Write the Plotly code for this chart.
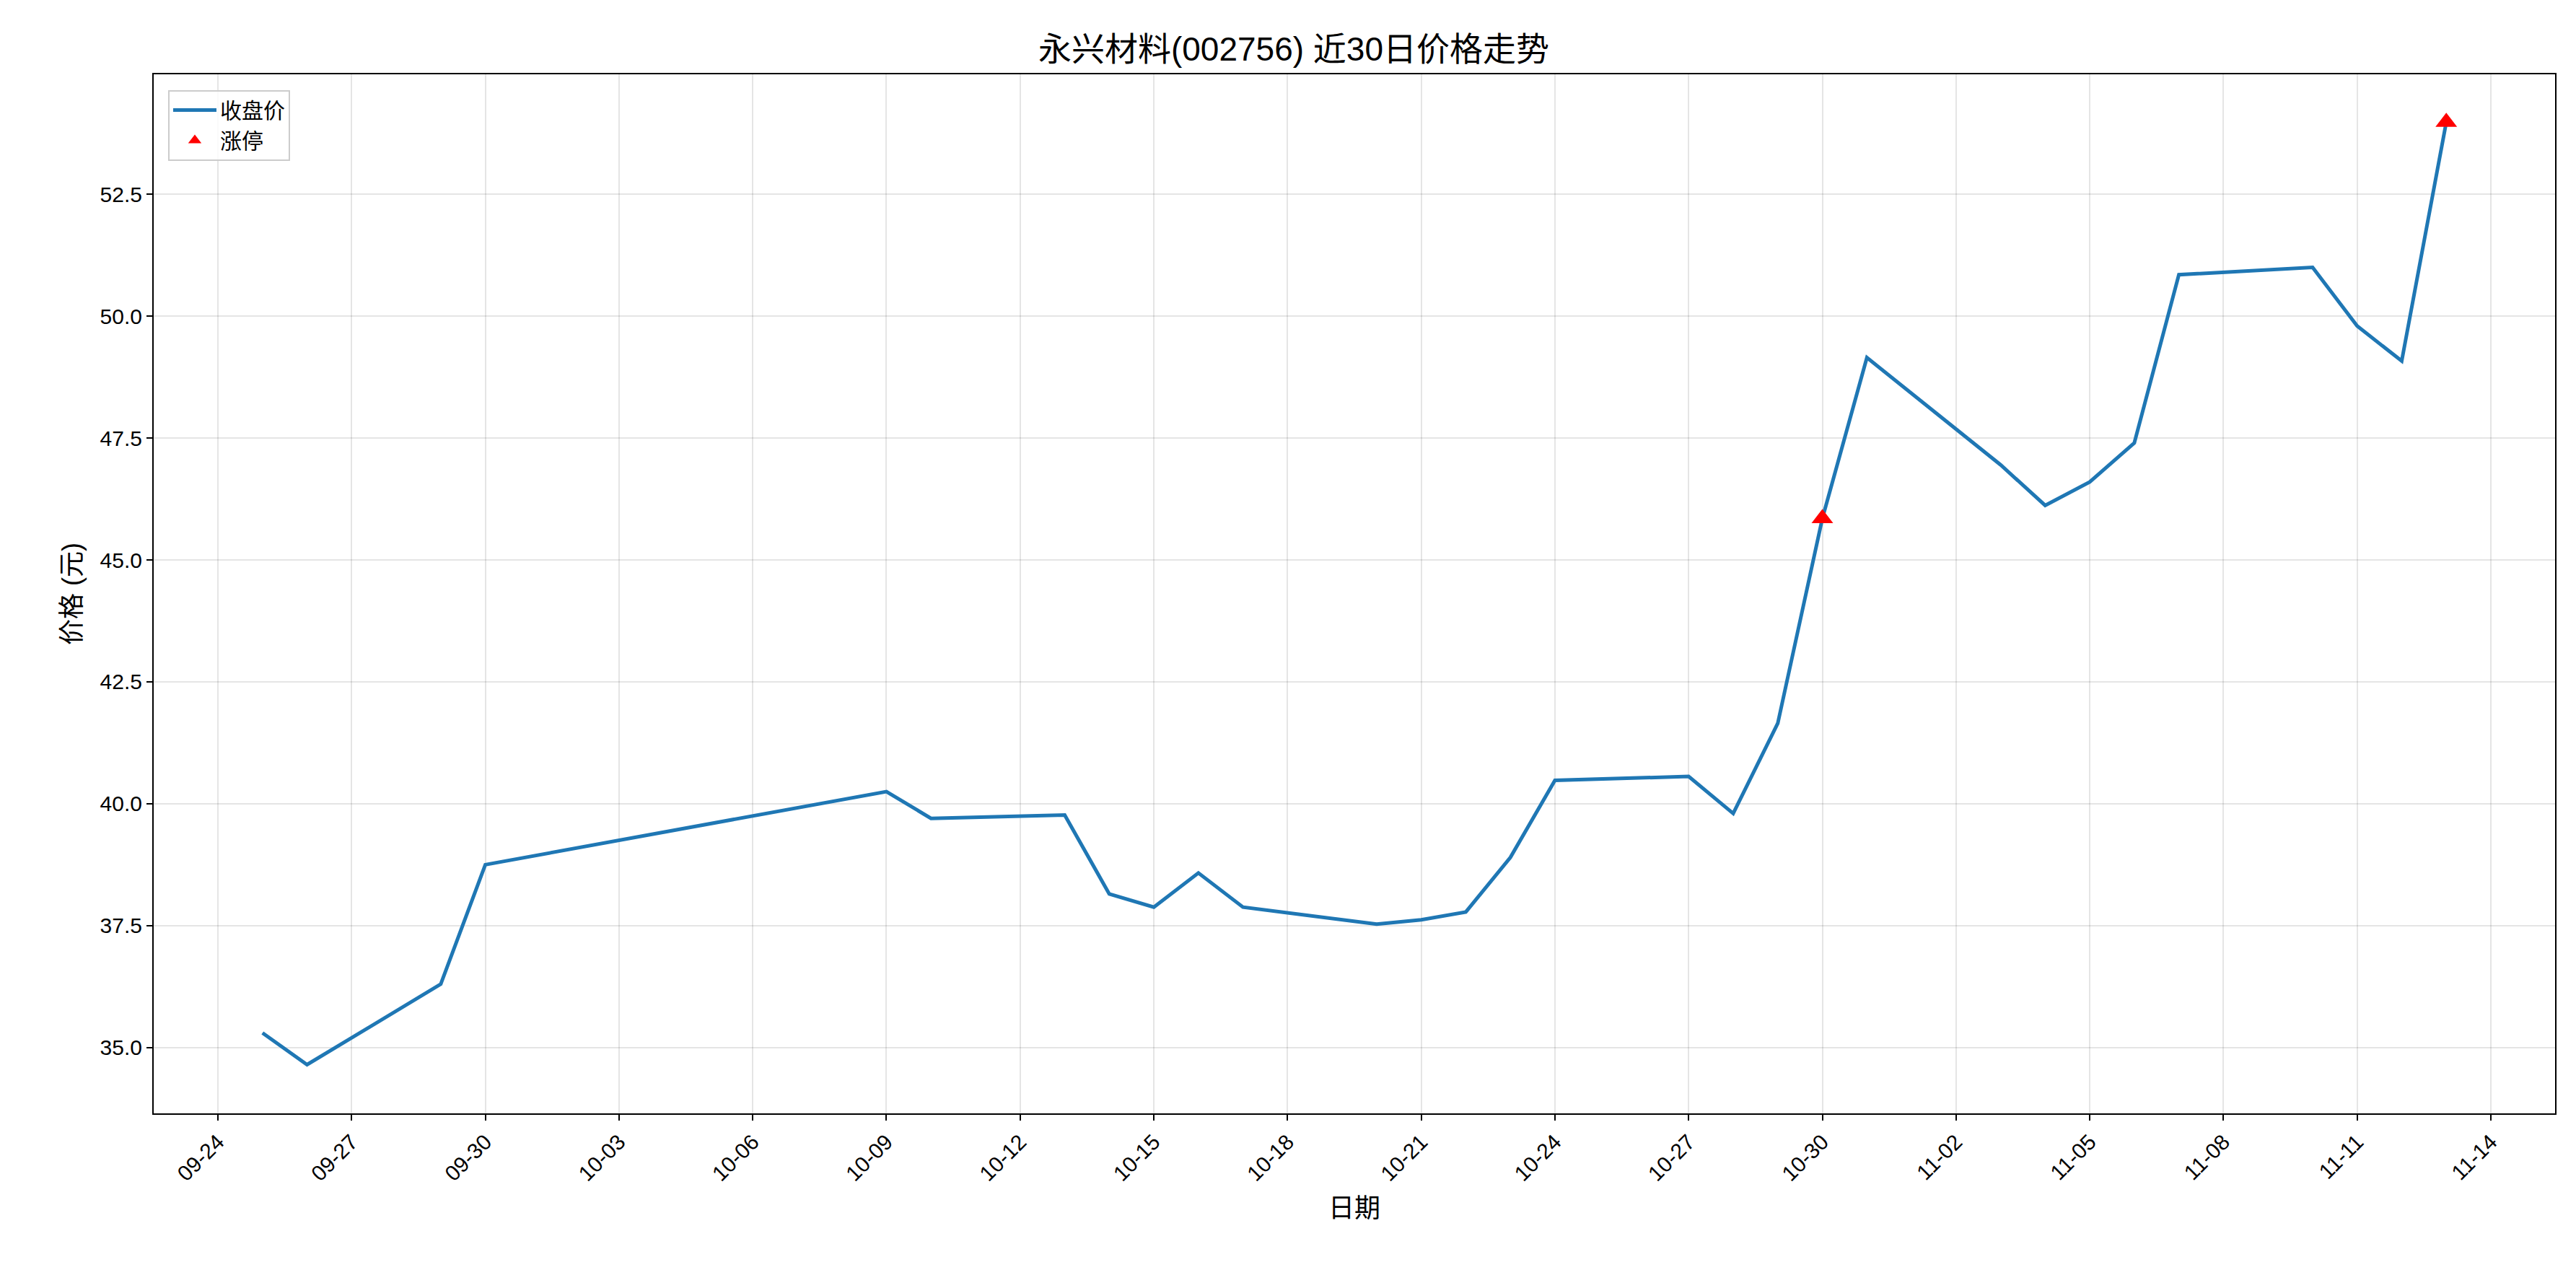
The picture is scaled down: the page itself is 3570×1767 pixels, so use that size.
import plotly.graph_objects as go

dates = ["2025-09-25","2025-09-26","2025-09-29","2025-09-30","2025-10-09","2025-10-10","2025-10-13","2025-10-14","2025-10-15","2025-10-16","2025-10-17","2025-10-20","2025-10-21","2025-10-22","2025-10-23","2025-10-24","2025-10-27","2025-10-28","2025-10-29","2025-10-30","2025-10-31","2025-11-03","2025-11-04","2025-11-05","2025-11-06","2025-11-07","2025-11-10","2025-11-11","2025-11-12","2025-11-13"]
close = [35.3,34.65,36.3,38.75,40.25,39.7,39.77,38.15,37.88,38.58,37.88,37.53,37.62,37.78,38.9,40.48,40.56,39.8,41.65,45.85,49.15,46.95,46.12,46.6,47.4,50.85,51.0,49.8,49.08,53.98]
limit_dates = ["2025-10-30","2025-11-13"]
limit_close = [45.85,53.98]
tick_dates = ["2025-09-24","2025-09-27","2025-09-30","2025-10-03","2025-10-06","2025-10-09","2025-10-12","2025-10-15","2025-10-18","2025-10-21","2025-10-24","2025-10-27","2025-10-30","2025-11-02","2025-11-05","2025-11-08","2025-11-11","2025-11-14"]
tick_labels = [d[5:] for d in tick_dates]

font = "Liberation Sans, Arial, Noto Sans CJK SC"
fig = go.Figure()
fig.add_trace(go.Scatter(x=dates, y=close, mode="lines", name="收盘价",
                         line=dict(color="#1f77b4", width=5)))
fig.add_trace(go.Scatter(x=limit_dates, y=limit_close, mode="markers", name="涨停",
                         marker=dict(symbol="triangle-up", color="red", size=26)))
ax = dict(showline=True, linecolor="black", linewidth=2, mirror=True,
          gridcolor="rgba(0,0,0,0.1)", gridwidth=2, ticks="outside", ticklen=8,
          tickcolor="black", tickwidth=2, tickfont=dict(size=30, color="black"), zeroline=False)
fig.update_layout(
    width=3570, height=1767, paper_bgcolor="white", plot_bgcolor="white",
    font=dict(family=font, color="black"),
    margin=dict(l=205, r=37, t=95, b=232),
    title=dict(text="永兴材料(002756) 近30日价格走势", x=0.5, xanchor="center", y=0.975,
               font=dict(size=46)),
    xaxis=dict(ax, type="date", range=["2025-09-22 13:25", "2025-11-15 10:35"],
               tickvals=tick_dates, ticktext=tick_labels, tickangle=-45,
               title=dict(text="日期", font=dict(size=36), standoff=20)),
    yaxis=dict(ax, range=[33.65, 54.96], tickvals=[35,37.5,40,42.5,45,47.5,50,52.5],
               ticktext=["35.0","37.5","40.0","42.5","45.0","47.5","50.0","52.5"],
               title=dict(text="价格 (元)", font=dict(size=36), standoff=15)),
    legend=dict(x=0.006, y=0.985, xanchor="left", yanchor="top", bordercolor="#cccccc",
                borderwidth=2, bgcolor="rgba(255,255,255,0.8)", font=dict(size=30),
                itemwidth=60),
)
fig.write_html("out.html")
